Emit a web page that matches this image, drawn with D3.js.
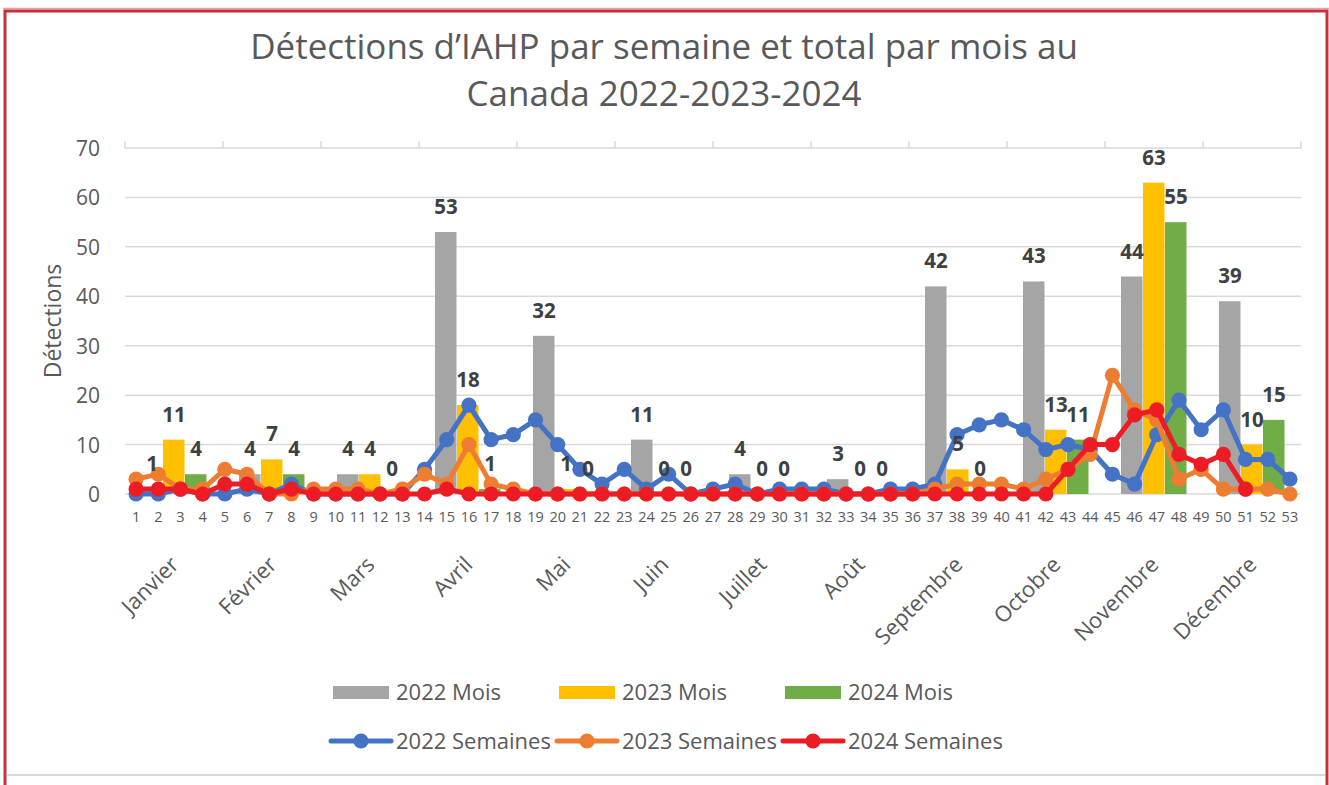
<!DOCTYPE html>
<html>
<head>
<meta charset="utf-8">
<script src="https://cdn.jsdelivr.net/npm/d3@7"></script>
<style>
  html, body { margin: 0; padding: 0; background: #fff; }
  svg { display: block; }
  text { font-family: "Open Sans", "Noto Sans", sans-serif; }
</style>
</head>
<body>
<svg id="chart" width="1329" height="785"></svg>
<script>
// ---------------- DATA ----------------
const titleLines = ["Détections d’IAHP par semaine et total par mois au", "Canada 2022-2023-2024"];
const yAxisTitle = "Détections";
const months = ["Janvier", "Février", "Mars", "Avril", "Mai", "Juin", "Juillet", "Août", "Septembre", "Octobre", "Novembre", "Décembre"];
const weeks = d3.range(1, 54);
const yTicks = [0, 10, 20, 30, 40, 50, 60, 70];

const mois2022 = [1, 4, 4, 53, 32, 11, 4, 3, 42, 43, 44, 39];
const mois2023 = [11, 7, 4, 18, 1, 0, 0, 0, 5, 13, 63, 10];
const mois2024 = [4, 4, 0, 1, 0, 0, 0, 0, 0, 11, 55, 15];

const sem2022 = [0,0,1,0,0,1,0,2,0,0, 0,0,0,5,11,18,11,12,15,10, 5,2,5,1,4,0,1,2,0,1, 1,1,0,0,1,1,2,12,14,15, 13,9,10,9,4,2,12,19,13,17, 7,7,3];
const sem2023 = [3,4,1,1,5,4,0,0,1,1, 1,0,1,4,2,10,2,1,0,0, 0,0,0,0,0,0,0,0,0,0, 0,0,0,0,0,0,1,2,2,2, 1,3,5,8,24,17,15,3,5,1, 1,1,0];
const sem2024 = [1,1,1,0,2,2,0,1,0,0, 0,0,0,0,1,0,0,0,0,0, 0,0,0,0,0,0,0,0,0,0, 0,0,0,0,0,0,0,0,0,0, 0,0,5,10,10,16,17,8,6,8, 1,null,null];

const barSeries = [
  { name: "2022 Mois", values: mois2022, color: "#A5A5A5" },
  { name: "2023 Mois", values: mois2023, color: "#FFC000" },
  { name: "2024 Mois", values: mois2024, color: "#70AD47" }
];
const lineSeries = [
  { name: "2022 Semaines", values: sem2022, color: "#4472C4" },
  { name: "2023 Semaines", values: sem2023, color: "#ED7D31" },
  { name: "2024 Semaines", values: sem2024, color: "#ED1C24" }
];

// ---------------- LAYOUT ----------------
const svg = d3.select("#chart");
const plot = { left: 125, right: 1301, top: 148, bottom: 494 };
const textColor = "#595959";
const gridColor = "#D9D9D9";

const y = d3.scaleLinear().domain([0, 70]).range([plot.bottom, plot.top]);
const xWeek = d3.scaleBand().domain(weeks).range([plot.left, plot.right]).padding(0);
const xMonth = d3.scaleBand().domain(months).range([plot.left, plot.right]).padding(0);
const xInner = d3.scaleBand().domain(barSeries.map(d => d.name))
  .range([0, xMonth.bandwidth()]).paddingInner(0).paddingOuter(0.727);

// frame
svg.append("rect").attr("x", 0).attr("y", 0).attr("width", 1329).attr("height", 785).attr("fill", "#fff");
svg.append("line").attr("x1", 3).attr("x2", 1329).attr("y1", 8.5).attr("y2", 8.5)
  .attr("stroke", "#E8A0A6").attr("stroke-width", 1.5);
svg.append("path").attr("d", "M5,785 V11 H1327 V785")
  .attr("fill", "none").attr("stroke", "#C9303E").attr("stroke-width", 3);
svg.append("line").attr("x1", 7).attr("x2", 1325).attr("y1", 775).attr("y2", 775)
  .attr("stroke", "#D9D9D9").attr("stroke-width", 2);

// title
const title = svg.append("g");
const tl = title.selectAll("text").data(titleLines).join("text")
  .attr("x", 664).attr("y", (d, i) => 59 + i * 47)
  .attr("text-anchor", "middle").attr("fill", textColor)
  .style("font-size", "30px").text(d => d);
const w0 = tl.nodes()[0].getComputedTextLength();
const fs = 30 * 828 / w0;
tl.style("font-size", fs + "px");

// gridlines
svg.append("g").selectAll("line").data(yTicks).join("line")
  .attr("x1", plot.left).attr("x2", plot.right)
  .attr("y1", d => y(d)).attr("y2", d => y(d))
  .attr("stroke", gridColor).attr("stroke-width", 1.5);

// top month ticks (secondary category axis)
const bounds = months.map(m => xMonth(m)).concat([plot.right]);
svg.append("g").selectAll("line").data(bounds).join("line")
  .attr("x1", d => d).attr("x2", d => d)
  .attr("y1", plot.top - 7).attr("y2", plot.top)
  .attr("stroke", gridColor).attr("stroke-width", 1.5);

// y axis labels
const yAxis = d3.axisLeft(y).tickValues(yTicks).tickSize(0).tickPadding(0);
const yg = svg.append("g").attr("transform", `translate(${plot.left - 25},0)`).call(yAxis);
yg.select(".domain").remove();
yg.selectAll("text").attr("fill", textColor).style("font-size", "21px")
  .style("font-family", '"Open Sans", sans-serif').attr("dy", "0.36em");

// y axis title
svg.append("text").attr("transform", "translate(61,321) rotate(-90)")
  .attr("text-anchor", "middle").attr("fill", textColor)
  .style("font-size", "23px").text(yAxisTitle);

// week axis labels
const xAxisW = d3.axisBottom(xWeek).tickSize(0).tickPadding(0);
const xg = svg.append("g").attr("transform", `translate(0,${plot.bottom})`).call(xAxisW);
xg.select(".domain").remove();
xg.selectAll("text").attr("fill", textColor).style("font-size", "14.5px")
  .style("font-family", '"Open Sans", sans-serif').attr("y", 0).attr("dy", 28);

// month labels (rotated)
svg.append("g").selectAll("text").data(months).join("text")
  .attr("transform", d => `translate(${xMonth(d) + xMonth.bandwidth() / 2 + 6},566) rotate(-45)`)
  .attr("text-anchor", "end").attr("fill", textColor)
  .style("font-size", "22px").text(d => d);

// bars
const barG = svg.append("g");
barSeries.forEach(s => {
  barG.append("g").selectAll("rect").data(months).join("rect")
    .attr("x", (m) => xMonth(m) + xInner(s.name))
    .attr("width", xInner.bandwidth() - 0.5)
    .attr("y", (m, i) => y(s.values[i]))
    .attr("height", (m, i) => y(0) - y(s.values[i]))
    .attr("fill", s.color);
});

// lines
const lineGen = d3.line()
  .defined(d => d.v !== null)
  .x(d => xWeek(d.w) + xWeek.bandwidth() / 2)
  .y(d => y(d.v));
lineSeries.forEach(s => {
  const pts = weeks.map((w, i) => ({ w, v: s.values[i] }));
  const g = svg.append("g");
  g.append("path").datum(pts).attr("d", lineGen)
    .attr("fill", "none").attr("stroke", s.color).attr("stroke-width", 5)
    .attr("stroke-linejoin", "round").attr("stroke-linecap", "round");
  g.selectAll("circle").data(pts.filter(d => d.v !== null)).join("circle")
    .attr("cx", d => xWeek(d.w) + xWeek.bandwidth() / 2)
    .attr("cy", d => y(d.v)).attr("r", 7.6).attr("fill", s.color);
});

// bar data labels
const labG = svg.append("g");
barSeries.forEach(s => {
  labG.append("g").selectAll("text").data(months).join("text")
    .attr("x", m => xMonth(m) + xInner(s.name) + xInner.bandwidth() / 2)
    .attr("y", (m, i) => y(s.values[i]) - 18)
    .attr("text-anchor", "middle").attr("fill", "#404040")
    .style("font-size", "20.5px").style("font-weight", "bold")
    .text((m, i) => s.values[i]);
});

// legend
const legend = svg.append("g");
const legX = [333, 559, 785];
barSeries.forEach((s, i) => {
  legend.append("rect").attr("x", legX[i]).attr("y", 686).attr("width", 56).attr("height", 13).attr("fill", s.color);
  legend.append("text").attr("x", legX[i] + 63).attr("y", 700).attr("fill", textColor)
    .style("font-size", "22px").text(s.name);
});
lineSeries.forEach((s, i) => {
  const x0 = legX[i] - 2;
  legend.append("line").attr("x1", x0).attr("x2", x0 + 60).attr("y1", 741).attr("y2", 741)
    .attr("stroke", s.color).attr("stroke-width", 5).attr("stroke-linecap", "round");
  legend.append("circle").attr("cx", x0 + 30).attr("cy", 741).attr("r", 7.6).attr("fill", s.color);
  legend.append("text").attr("x", legX[i] + 63).attr("y", 749).attr("fill", textColor)
    .style("font-size", "22px").text(s.name);
});
</script>
</body>
</html>
